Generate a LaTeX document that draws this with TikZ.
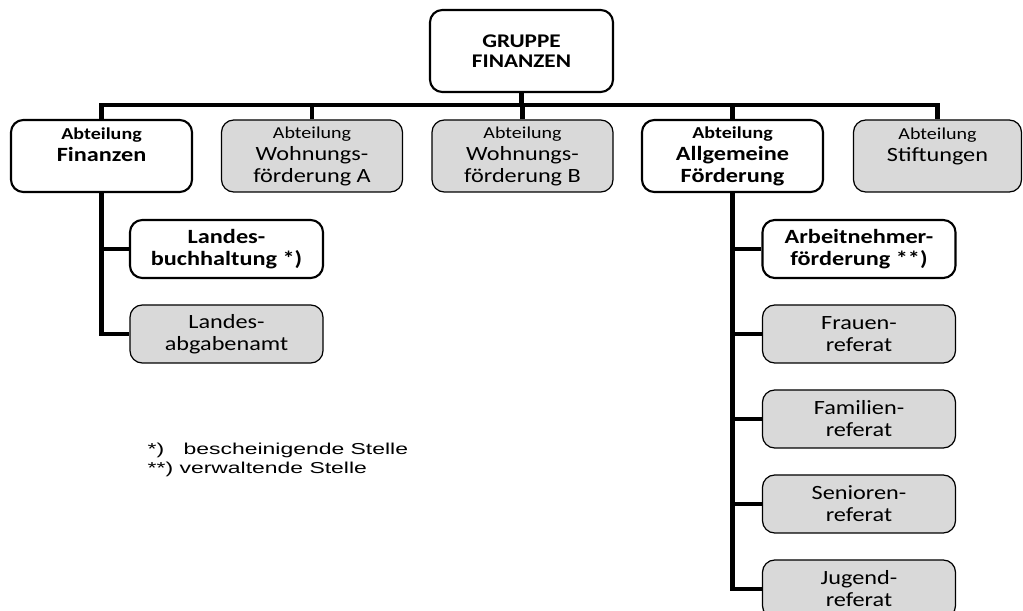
\documentclass[tikz,border=0pt]{standalone}
\usepackage{fontspec}
\setmainfont{Carlito}[FakeStretch=1.2]
\newfontfamily\legendfont{Liberation Sans}[FakeStretch=1.45]
\usetikzlibrary{positioning}
\definecolor{boxgray}{HTML}{D9D9D9}
\newcommand{\abt}{\fontsize{9.5}{12.5}\selectfont}

\begin{document}
\begin{tikzpicture}[line width=0.8pt,
      conn/.style={line width=2.8pt},
      dept/.style={rounded corners=7pt, draw, line width=1.2pt, fill=white,
                   align=center, inner sep=2pt, minimum width=3.62cm, minimum height=1.44cm,
                   font=\fontsize{11.5}{12.5}\selectfont\bfseries},
      deptgray/.style={dept, fill=boxgray, line width=0.7pt,
                   font=\fontsize{11.5}{12.5}\selectfont},
      unit/.style={dept, minimum width=3.86cm, minimum height=1.16cm},
      unitgray/.style={deptgray, minimum width=3.86cm, minimum height=1.16cm},
      legend/.style={inner sep=0pt, anchor=west, font=\legendfont\fontsize{9}{10}\selectfont}]
    \useasboundingbox (0,0) rectangle (20.46,-12.22);
    \node[dept, minimum width=3.66cm, minimum height=1.64cm,
          font=\fontsize{11}{11.5}\selectfont\bfseries] (grp) at (10.43,-1.02) {GRUPPE\\FINANZEN};
    \node[dept] (fin) at (2.03,-3.12) {{\abt Abteilung}\\Finanzen\\\mbox{}};
    \node[deptgray] (wfa) at (6.24,-3.12) {{\abt Abteilung}\\Wohnungs-\\förderung A};
    \node[deptgray] (wfb) at (10.45,-3.12) {{\abt Abteilung}\\Wohnungs-\\förderung B};
    \node[dept] (allg) at (14.65,-3.12) {{\abt Abteilung}\\Allgemeine\\Förderung};
    \node[deptgray, minimum width=3.36cm] (stif) at (18.75,-3.12) {{\abt Abteilung}\\Stiftungen\\\mbox{}};
    \node[unit] (lbh) at (4.53,-4.98) {Landes-\\buchhaltung *)};
    \node[unitgray] (lab) at (4.53,-6.68) {Landes-\\abgabenamt};
    \node[unit] (anf) at (17.18,-4.98) {Arbeitnehmer-\\förderung **)};
    \node[unitgray] (frau) at (17.18,-6.68) {Frauen-\\referat};
    \node[unitgray] (fam) at (17.18,-8.38) {Familien-\\referat};
    \node[unitgray] (sen) at (17.18,-10.08) {Senioren-\\referat};
    \node[unitgray] (jug) at (17.18,-11.78) {Jugend-\\referat};
    % verbindungen
    \coordinate (bus) at (0,-2.10);
    \draw[conn] (fin.north) |- (bus -| stif.north) -- (stif.north);
    \draw[conn] (grp.south) -- (grp.south |- bus);
    \foreach \n in {wfa, wfb, allg} \draw[conn] (\n.north) -- (\n.north |- bus);
    \draw[conn] (fin.south) |- (lab.west); \draw[conn] (fin.south |- lbh.west) -- (lbh.west);
    \draw[conn] (allg.south) |- (jug.west);
    \foreach \n in {anf, frau, fam, sen} \draw[conn] (allg.south |- \n.west) -- (\n.west);
    % legende
    \node[legend] (leg1) at (2.94,-9.0) {\makebox[0.72cm][l]{*)}bescheinigende Stelle};
    \node[legend] (leg2) at (2.94,-9.38) {**) verwaltende Stelle};
  \end{tikzpicture}
\end{document}
